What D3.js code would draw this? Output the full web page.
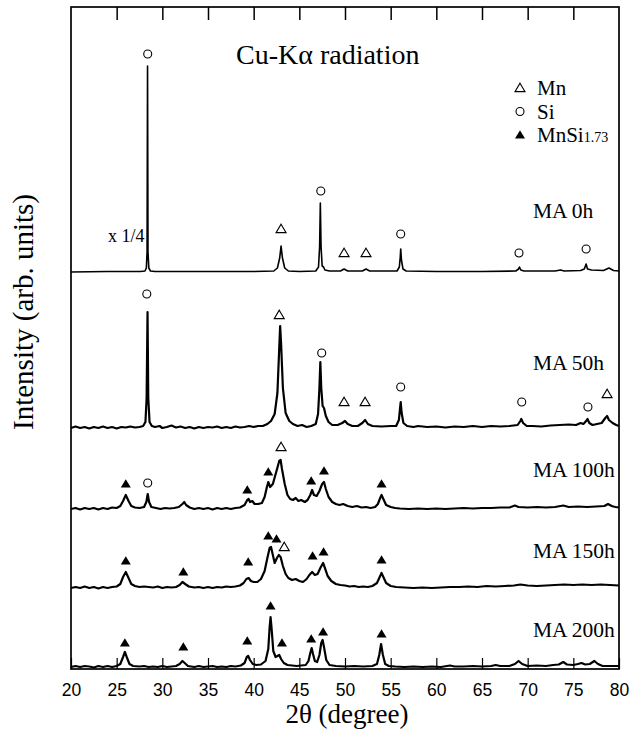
<!DOCTYPE html>
<html>
<head>
<meta charset="utf-8">
<script src="https://cdn.jsdelivr.net/npm/d3@7/dist/d3.min.js"></script>
<style>
  body { margin: 0; background: #fff; }
  svg { display: block; }
  .serif { font-family: "Liberation Serif", "Times New Roman", serif; }
  .sans { font-family: "Liberation Sans", Arial, sans-serif; }
</style>
</head>
<body>
<svg id="chart"></svg>
<script>
// --- DATOS ---  (2θ en grados, intensidad en unidades arbitrarias sobre la línea base de cada patrón)
const patternNames = ["MA 0h", "MA 50h", "MA 100h", "MA 150h", "MA 200h"];
const patternOffsets = [397, 241, 160, 81, 2];

const ma0 = [
  [20,0],[24,0.5],[27.6,0.5],[28.1,1],[28.25,4],[28.33,20],[28.38,206],[28.43,20],[28.52,4],[28.7,1],[29.2,0.5],
  [35,0.5],[40,0.5],[42.2,1],[42.6,4],[42.85,14],[43.0,26],[43.15,14],[43.4,4],[43.8,1],[45,0.5],
  [46.8,1],[47.1,5],[47.22,25],[47.3,69],[47.38,25],[47.5,6],[47.65,5],[47.8,2],[48.3,1],[49.5,1],[49.9,3],[50.3,1],
  [51.9,1],[52.3,3],[52.7,1],[55.7,1],[55.95,5],[56.05,15],[56.1,23],[56.18,12],[56.35,3],[56.7,1],
  [60,0.5],[65,0.5],[68.7,1],[69.0,3],[69.1,5],[69.25,2],[69.6,1],[73,1],[73.6,2],[74,1],
  [75.8,1.5],[76.2,3],[76.4,8],[76.55,3],[77,2],[78.3,1.5],[78.9,4],[79.4,1.5],[80,1]
];

const ma50 = [
  [20,0],[20.5,1.5],[21,0],[21.5,1],[22,-0.5],[22.5,1],[23,0],[23.5,1.5],[24,0],[24.5,1],[25,-0.5],[25.5,1],
  [26,0.5],[26.5,1.5],[27,0.5],[27.5,1],[27.9,2],[28.15,6],[28.28,30],[28.38,116],[28.46,30],[28.6,6],[28.85,2],
  [29.2,1],[29.7,2],[30,0],[30.5,1],[31,2.5],[31.5,0.5],[32,1.5],[32.5,0],[33,1],[33.5,-0.5],[34,1],[34.5,0],
  [35,1],[35.5,0.5],[36,1.5],[36.5,0],[37,1],[37.5,0],[38,1.5],[38.5,0.5],[39,1],[39.5,2],[40,1],[40.5,2],[41,2],
  [41.5,4],[41.9,7],[42.3,14],[42.6,35],[42.8,80],[42.9,102],[43.0,85],[43.2,40],[43.5,15],[43.9,7],[44.3,4],
  [44.8,2],[45.3,3],[45.8,1],[46.3,2],[46.8,4],[47.05,14],[47.2,40],[47.3,66],[47.4,40],[47.55,22],[47.7,20],
  [47.9,12],[48.2,6],[48.6,3],[49.2,3],[49.7,5],[50.0,7],[50.3,4],[50.8,2],[51.4,2],[51.9,5],[52.2,8],[52.5,4],
  [53,2],[54,1.5],[55,2],[55.6,2],[55.9,8],[56.05,22],[56.1,26],[56.2,15],[56.4,5],[56.8,2],[57.5,1],[58,2],
  [59,1],[60,1.5],[61,0.5],[62,1.5],[63,1],[64,2],[65,1],[66,2],[67,1.5],[68,2],[68.9,3],[69.2,7],[69.3,9],
  [69.5,5],[69.9,2],[70.5,2],[71.5,1.5],[72.5,2.5],[73.5,3],[74.5,3.5],[75.3,3],[75.8,5],[76.1,4],[76.4,7],
  [76.55,9],[76.75,5],[77.1,3],[77.6,4],[78.1,5],[78.5,10],[78.7,12],[78.9,8],[79.3,5],[79.7,3],[80,2]
];

const ma100 = [
  [20,0],[20.5,1],[21,-0.5],[21.5,1],[22,0],[22.5,1],[23,-0.5],[23.5,1],[24,0],[24.5,1.5],[25,1],[25.4,3],
  [25.7,8],[26.0,14],[26.3,8],[26.6,3],[27,1.5],[27.5,1],[28,2],[28.25,7],[28.4,15],[28.55,7],[28.8,2],[29.3,1],
  [29.8,0],[30.3,1],[30.8,0.5],[31.3,1],[31.8,2],[32.2,5],[32.4,7],[32.6,4],[33,1.5],[33.5,0],[34,1],[34.5,0],
  [35,1],[35.5,-0.5],[36,1],[36.5,0],[37,1],[37.5,0],[38,1],[38.5,1.5],[39,4],[39.3,9],[39.45,10],[39.6,7],
  [39.85,8],[40.1,5],[40.5,5],[40.9,6],[41.2,12],[41.45,22],[41.6,27],[41.8,22],[42.1,25],[42.5,38],[42.8,48],
  [42.95,49],[43.1,40],[43.4,25],[43.7,14],[44.0,10],[44.3,9],[44.6,11],[44.9,8],[45.2,9],[45.6,7],[45.9,9],
  [46.2,14],[46.4,19],[46.6,14],[46.9,13],[47.2,18],[47.5,25],[47.7,27],[47.9,20],[48.2,12],[48.6,7],[49,5],
  [49.4,4],[49.8,5],[50.3,3],[50.8,2],[51.3,3],[51.8,1.5],[52.3,2],[52.8,1],[53.3,2],[53.6,5],[53.85,11],
  [54.0,14],[54.2,10],[54.5,4],[55,2],[55.5,1],[56,0.5],[57,0],[58,0.5],[59,0],[60,0.5],[61,0],[62,0.5],[63,1],
  [64,0.5],[65,1],[66,1],[67,1.5],[68,1.5],[68.6,3.5],[69,2],[70,1.5],[71,2],[72,1.5],[73,2],[73.9,3.5],
  [74.5,2],[75.5,2.5],[76.5,2],[77.5,2.5],[78.4,3],[78.8,5],[79.2,3],[79.6,2],[80,1.5]
];

const ma150 = [
  [20,0],[20.5,1],[21,0],[21.5,1.5],[22,0],[22.5,1],[23,-0.5],[23.5,1],[24,0],[24.5,1],[25,1.5],[25.4,4],
  [25.7,11],[26.0,16],[26.3,10],[26.6,4],[27,2],[27.5,1],[28,1.5],[28.5,1],[29,0.5],[29.5,1.5],[30,0],[30.5,1],
  [31,0.5],[31.5,1],[31.9,3],[32.2,6],[32.5,4],[32.9,1.5],[33.5,0.5],[34,1],[34.5,0],[35,1],[35.5,0],[36,1],
  [36.5,0.5],[37,1.5],[37.5,1],[38,1.5],[38.5,2.5],[38.9,5],[39.2,9],[39.45,10],[39.7,7],[40,6],[40.4,6],
  [40.8,9],[41.2,17],[41.5,30],[41.75,40],[41.9,41],[42.1,33],[42.3,25],[42.55,30],[42.75,33],[42.95,31],
  [43.2,22],[43.5,14],[43.8,10],[44.2,8],[44.6,9],[45,7],[45.4,6],[45.8,9],[46.1,13],[46.4,16],[46.7,13],
  [47,14],[47.3,20],[47.6,25],[47.8,20],[48.1,12],[48.5,7],[49,4],[49.5,3],[50,2.5],[50.5,1.5],[51,2],[51.5,1],
  [52,1.5],[52.5,1],[53,2],[53.5,5],[53.8,11],[54.0,15],[54.2,11],[54.5,5],[55,2],[55.6,1],[56.5,0.5],
  [57.5,0],[58.5,0.5],[59.5,0],[60.5,0.5],[61.5,1],[62.5,1],[63.5,1.5],[64.5,1],[65.5,2],[66.5,1.5],[67.5,2],
  [68.5,2.5],[69.2,3.5],[70,2.5],[71,2],[72,2.5],[73,3],[74,3.5],[75,3],[76,3.5],[77,3],[78,3.5],[79,3],[80,2.5]
];

const ma200 = [
  [20,0],[20.5,1],[21,0],[21.5,1],[22,0.5],[22.5,-0.5],[23,1],[23.5,0],[24,1],[24.5,0],[25,1],[25.4,3],
  [25.7,10],[25.9,15],[26.1,10],[26.4,3],[26.8,1],[27.5,0.5],[28,1],[28.5,0],[29,0.5],[29.5,0],[30,1],[30.5,0],
  [31,0.5],[31.5,1],[31.9,3],[32.2,6],[32.45,4],[32.8,1],[33.5,0],[34,1],[34.5,0],[35,0.5],[35.5,1],[36,0],
  [36.5,0.5],[37,0],[37.5,1],[38,0.5],[38.6,1.5],[39.0,4],[39.25,10],[39.4,11],[39.6,7],[39.9,3],[40.3,2],
  [40.8,2.5],[41.3,6],[41.6,18],[41.75,40],[41.85,50],[41.95,40],[42.15,16],[42.4,10],[42.6,11],[42.8,12],
  [43.0,8],[43.3,4],[43.7,2],[44.2,1.5],[44.7,1],[45.2,1.5],[45.7,2],[46.0,6],[46.2,14],[46.35,19],[46.5,13],
  [46.7,6],[46.95,5],[47.2,12],[47.4,24],[47.55,27],[47.7,20],[47.95,7],[48.3,2],[49,1],[50,0.5],[51,1],
  [52,0.5],[53,1],[53.5,3],[53.75,12],[53.95,23],[54.15,12],[54.4,3],[54.8,1],[55.5,0.5],[56.5,0],[57.5,0.5],
  [58.5,0],[59.5,0.5],[60.5,0],[61.5,1.5],[62,0.5],[63,0.5],[64,1],[65,0.5],[66,1],[66.5,2],[67,1],[68,1],
  [68.6,3],[69,6],[69.4,3],[70,1],[71,1.5],[72,1],[72.8,2],[73.4,2.5],[73.9,5],[74.3,2.5],[75,2],[75.5,3],
  [75.9,4],[76.3,2.5],[76.8,3],[77.3,6],[77.7,3],[78.2,1],[79,1],[80,1]
];

const patterns = [ma0, ma50, ma100, ma150, ma200];

// marcadores de fase: [patrón, tipo, 2θ, altura sobre la base]
const phaseMarks = [
  [0,"Si",28.4,218],[0,"Mn",43.0,43],[0,"Si",47.35,81],[0,"Mn",49.9,19],[0,"Mn",52.3,19],[0,"Si",56.1,38],[0,"Si",69.05,19],[0,"Si",76.4,23],
  [1,"Si",28.3,134],[1,"Mn",42.8,113],[1,"Si",47.45,75],[1,"Mn",49.9,26],[1,"Mn",52.2,26],[1,"Si",56.1,41],[1,"Si",69.35,26],[1,"Si",76.6,21],[1,"Mn",78.7,34],
  [2,"MnSi",26.0,25],[2,"Si",28.4,26],[2,"MnSi",39.3,19],[2,"MnSi",41.6,37],[2,"Mn",43.0,62],[2,"MnSi",46.3,28],[2,"MnSi",47.7,38],[2,"MnSi",54.0,25],
  [3,"MnSi",26.0,27],[3,"MnSi",32.3,16],[3,"MnSi",39.4,26],[3,"MnSi",41.6,52],[3,"MnSi",42.5,49],[3,"Mn",43.35,41],[3,"MnSi",46.45,32],[3,"MnSi",47.65,36],[3,"MnSi",54.0,28],
  [4,"MnSi",25.9,24],[4,"MnSi",32.3,20],[4,"MnSi",39.3,26],[4,"MnSi",41.85,61],[4,"MnSi",43.1,24],[4,"MnSi",46.3,28],[4,"MnSi",47.6,35],[4,"MnSi",54.0,33]
];

const legendItems = [["Mn","Mn",""],["Si","Si",""],["MnSi","MnSi","1.73"]];
const xTicks = [20,25,30,35,40,45,50,55,60,65,70,75,80];

// --- GRÁFICO ---
const width = 643, height = 732;
const margin = { left: 71, right: 24, top: 7, bottom: 63 };
const svg = d3.select("#chart").attr("width", width).attr("height", height);

const x = d3.scaleLinear().domain([20, 80]).range([margin.left, width - margin.right]);
const y = d3.scaleLinear().domain([0, 662]).range([height - margin.bottom, margin.top]);

// trazas
const line = d3.line().x(d => x(d[0])).y(d => y(d[1]));
patterns.forEach((p, i) => {
  const off = patternOffsets[i];
  svg.append("path")
    .datum(p.map(d => [d[0], d[1] + off]))
    .attr("fill", "none")
    .attr("stroke", "#000")
    .attr("stroke-width", i === 0 ? 1.6 : 2.2)
    .attr("stroke-linejoin", "round")
    .attr("d", line);
});

// símbolos
const triPath = "M0,-4.8L5,3.6L-5,3.6Z";
function drawMark(g, type) {
  if (type === "Si") {
    g.append("circle").attr("r", 4).attr("fill", "#fff").attr("stroke", "#000").attr("stroke-width", 1.1);
  } else if (type === "Mn") {
    g.append("path").attr("d", triPath).attr("fill", "#fff").attr("stroke", "#000").attr("stroke-width", 1.1);
  } else {
    g.append("path").attr("d", triPath).attr("fill", "#000");
  }
}
phaseMarks.forEach(m => {
  const g = svg.append("g")
    .attr("transform", `translate(${x(m[2])},${y(m[3] + patternOffsets[m[0]])})`);
  drawMark(g, m[1]);
});

// etiquetas de cada patrón
const labelLift = [54, 58, 32, 30, 30];
patternNames.forEach((n, i) => {
  svg.append("text").attr("class", "serif")
    .attr("x", 533).attr("y", y(patternOffsets[i] + labelLift[i]))
    .attr("font-size", 21.5).text(n);
});

// marco y ejes
svg.append("rect")
  .attr("x", margin.left).attr("y", margin.top)
  .attr("width", width - margin.left - margin.right)
  .attr("height", height - margin.top - margin.bottom)
  .attr("fill", "none").attr("stroke", "#000").attr("stroke-width", 1.7);

const xAxis = svg.append("g")
  .attr("transform", `translate(0,${height - margin.bottom})`)
  .call(d3.axisBottom(x).tickValues(xTicks).tickSizeInner(-11).tickSizeOuter(0).tickPadding(15));
xAxis.select(".domain").remove();
xAxis.selectAll("line").attr("stroke-width", 1.2);
xAxis.selectAll("text").attr("class", "sans").attr("font-size", 17.5).attr("fill", "#000");

const xTop = svg.append("g")
  .attr("transform", `translate(0,${margin.top})`)
  .call(d3.axisTop(x).tickValues(xTicks.slice(1, -1)).tickSizeInner(-13).tickSizeOuter(0).tickFormat(""));
xTop.select(".domain").remove();
xTop.selectAll("line").attr("stroke-width", 1.5);

// títulos
svg.append("text").attr("class", "serif")
  .attr("x", 347).attr("y", 723).attr("text-anchor", "middle")
  .attr("font-size", 27).text("2θ (degree)");

svg.append("text").attr("class", "serif")
  .attr("transform", "translate(33,312) rotate(-90)")
  .attr("text-anchor", "middle").attr("font-size", 29)
  .text("Intensity (arb. units)");

svg.append("text").attr("class", "serif")
  .attr("x", 236).attr("y", 64).attr("font-size", 28).text("Cu-Kα radiation");

svg.append("text").attr("class", "serif")
  .attr("x", 108).attr("y", 242).attr("font-size", 18).text("x 1/4");

// leyenda
legendItems.forEach((it, i) => {
  const ly = 88 + i * 23.5;
  const g = svg.append("g").attr("transform", `translate(520,${ly})`);
  drawMark(g, it[0]);
  const t = svg.append("text").attr("class", "serif")
    .attr("x", 537).attr("y", ly + 7).attr("font-size", 21).text(it[1]);
  if (it[2]) t.append("tspan").attr("font-size", 14).text(it[2]);
});
</script>
</body>
</html>
